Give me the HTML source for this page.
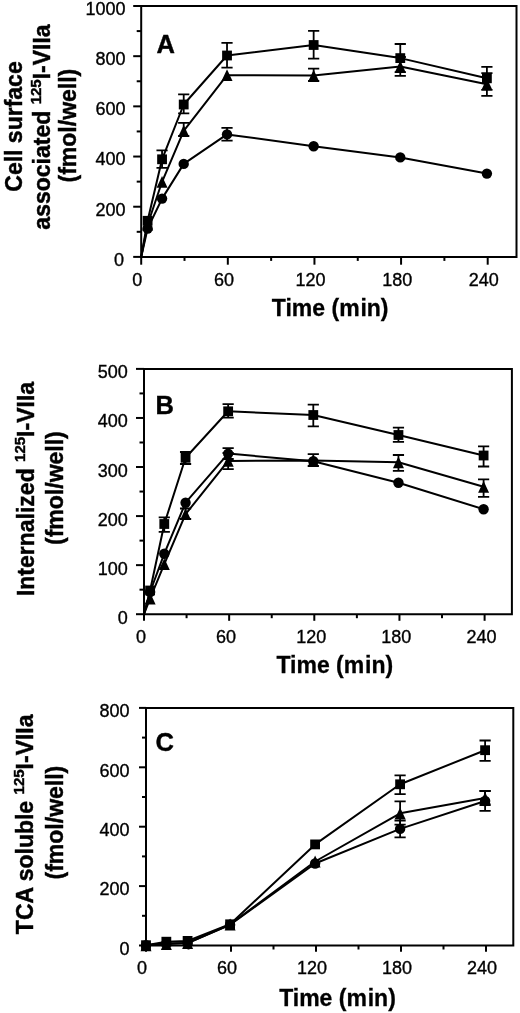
<!DOCTYPE html>
<html><head><meta charset="utf-8"><style>
html,body{margin:0;padding:0;background:#fff;width:520px;height:1013px;overflow:hidden}
svg{display:block}
.tl{font-family:"Liberation Sans",sans-serif;font-size:18px;fill:#000;stroke:#000;stroke-width:0.35px}
.tt{font-family:"Liberation Sans",sans-serif;font-size:23px;font-weight:bold;fill:#000;stroke:#000;stroke-width:0.45px}
.sup{font-size:15px}
.xt{letter-spacing:0px;stroke-width:0.3px}
svg{filter:grayscale(1)}
.lt{font-family:"Liberation Sans",sans-serif;font-size:25.5px;font-weight:bold;fill:#000;stroke:#000;stroke-width:0.4px}
</style></head><body>
<svg width="520" height="1013" viewBox="0 0 520 1013">
<path d="M141.2 6H516.5V256.9H141.2Z" fill="none" stroke="#000" stroke-width="2.0"/>
<path d="M133.2 256.9H141.2" stroke="#000" stroke-width="2.0"/>
<text x="123.9" y="265.7" class="tl" text-anchor="end">0</text>
<path d="M136.7 231.81H141.2" stroke="#000" stroke-width="2.0"/>
<path d="M133.2 206.72H141.2" stroke="#000" stroke-width="2.0"/>
<text x="125.5" y="215.52" class="tl" text-anchor="end">200</text>
<path d="M136.7 181.63H141.2" stroke="#000" stroke-width="2.0"/>
<path d="M133.2 156.54H141.2" stroke="#000" stroke-width="2.0"/>
<text x="125.5" y="165.34" class="tl" text-anchor="end">400</text>
<path d="M136.7 131.45H141.2" stroke="#000" stroke-width="2.0"/>
<path d="M133.2 106.36H141.2" stroke="#000" stroke-width="2.0"/>
<text x="125.5" y="115.16" class="tl" text-anchor="end">600</text>
<path d="M136.7 81.27H141.2" stroke="#000" stroke-width="2.0"/>
<path d="M133.2 56.18H141.2" stroke="#000" stroke-width="2.0"/>
<text x="125.5" y="64.98" class="tl" text-anchor="end">800</text>
<path d="M136.7 31.09H141.2" stroke="#000" stroke-width="2.0"/>
<path d="M133.2 6H141.2" stroke="#000" stroke-width="2.0"/>
<text x="125.5" y="14.8" class="tl" text-anchor="end">1000</text>
<path d="M141.2 256.9V264.7" stroke="#000" stroke-width="2.0"/>
<text x="137.3" y="286.3" class="tl" text-anchor="middle">0</text>
<path d="M184.51 256.9V260.9" stroke="#000" stroke-width="2.0"/>
<path d="M227.82 256.9V264.7" stroke="#000" stroke-width="2.0"/>
<text x="223.92" y="286.3" class="tl" text-anchor="middle">60</text>
<path d="M271.14 256.9V260.9" stroke="#000" stroke-width="2.0"/>
<path d="M314.45 256.9V264.7" stroke="#000" stroke-width="2.0"/>
<text x="310.55" y="286.3" class="tl" text-anchor="middle">120</text>
<path d="M357.76 256.9V260.9" stroke="#000" stroke-width="2.0"/>
<path d="M401.07 256.9V264.7" stroke="#000" stroke-width="2.0"/>
<text x="397.18" y="286.3" class="tl" text-anchor="middle">180</text>
<path d="M444.39 256.9V260.9" stroke="#000" stroke-width="2.0"/>
<path d="M487.7 256.9V264.7" stroke="#000" stroke-width="2.0"/>
<text x="483.8" y="286.3" class="tl" text-anchor="middle">240</text>
<text x="330.2" y="316.2" class="tt xt" text-anchor="middle">Time (m<tspan dx="0.8">in)</tspan></text>
<text x="156.5" y="53" class="lt">A</text>
<text transform="translate(22 126.5) rotate(-90)" class="tt" text-anchor="middle">Cell surface</text>
<text transform="translate(49.5 127) rotate(-90)" class="tt" text-anchor="middle">associated <tspan class="sup" dy="-9">125</tspan><tspan dy="9">I-VIIa</tspan></text>
<text transform="translate(75.7 125.6) rotate(-90)" class="tt" text-anchor="middle">(fmol/well)</text>
<path d="M141.2 256.9 L147.62 220.8 L162.06 159.3 L183.71 104.5 L227.02 55.5 L313.65 45 L400.27 58.1 L486.9 78.3" fill="none" stroke="#000" stroke-width="2.0" stroke-linejoin="round"/>
<path d="M141.2 256.9 L147.62 224.5 L162.06 181.8 L183.71 130.8 L227.02 75.2 L313.65 75.6 L400.27 66.5 L486.9 84.2" fill="none" stroke="#000" stroke-width="2.0" stroke-linejoin="round"/>
<path d="M141.2 256.9 L147.62 228.5 L162.06 198.6 L183.71 163.9 L227.02 134.4 L313.65 146.2 L400.27 157.4 L486.9 173.6" fill="none" stroke="#000" stroke-width="2.0" stroke-linejoin="round"/>
<path d="M162.06 150.4V167.8M156.46 150.4H167.66M156.46 167.8H167.66" stroke="#000" stroke-width="1.8"/>
<path d="M183.71 94.3V113.3M178.11 94.3H189.31M178.11 113.3H189.31" stroke="#000" stroke-width="1.8"/>
<path d="M227.02 42.8V67.6M221.42 42.8H232.62M221.42 67.6H232.62" stroke="#000" stroke-width="1.8"/>
<path d="M313.65 30.8V58.6M308.05 30.8H319.25M308.05 58.6H319.25" stroke="#000" stroke-width="1.8"/>
<path d="M400.27 44V72.2M394.67 44H405.88M394.67 72.2H405.88" stroke="#000" stroke-width="1.8"/>
<path d="M486.9 66.8V89.8M481.3 66.8H492.5M481.3 89.8H492.5" stroke="#000" stroke-width="1.8"/>
<path d="M183.71 122.8V136M178.11 122.8H189.31M178.11 136H189.31" stroke="#000" stroke-width="1.8"/>
<path d="M313.65 68.6V81M308.05 68.6H319.25M308.05 81H319.25" stroke="#000" stroke-width="1.8"/>
<path d="M400.27 57V75.8M394.67 57H405.88M394.67 75.8H405.88" stroke="#000" stroke-width="1.8"/>
<path d="M486.9 73.2V95.8M481.3 73.2H492.5M481.3 95.8H492.5" stroke="#000" stroke-width="1.8"/>
<path d="M227.02 127.9V140.7M221.42 127.9H232.62M221.42 140.7H232.62" stroke="#000" stroke-width="1.8"/>
<rect x="142.72" y="215.9" width="9.8" height="9.8"/>
<rect x="157.16" y="154.4" width="9.8" height="9.8"/>
<rect x="178.81" y="99.6" width="9.8" height="9.8"/>
<rect x="222.12" y="50.6" width="9.8" height="9.8"/>
<rect x="308.75" y="40.1" width="9.8" height="9.8"/>
<rect x="395.38" y="53.2" width="9.8" height="9.8"/>
<rect x="482" y="73.4" width="9.8" height="9.8"/>
<path d="M147.62 218.6L153.12 230.4H142.12Z"/>
<path d="M162.06 175.9L167.56 187.7H156.56Z"/>
<path d="M183.71 124.9L189.21 136.7H178.21Z"/>
<path d="M227.02 69.3L232.52 81.1H221.52Z"/>
<path d="M313.65 69.7L319.15 81.5H308.15Z"/>
<path d="M400.27 60.6L405.77 72.4H394.77Z"/>
<path d="M486.9 78.3L492.4 90.1H481.4Z"/>
<circle cx="147.62" cy="228.5" r="5.2"/>
<circle cx="162.06" cy="198.6" r="5.2"/>
<circle cx="183.71" cy="163.9" r="5.2"/>
<circle cx="227.02" cy="134.4" r="5.2"/>
<circle cx="313.65" cy="146.2" r="5.2"/>
<circle cx="400.27" cy="157.4" r="5.2"/>
<circle cx="486.9" cy="173.6" r="5.2"/>
<path d="M144 368.9H511.9V614.2H144Z" fill="none" stroke="#000" stroke-width="2.0"/>
<path d="M136 614.2H144" stroke="#000" stroke-width="2.0"/>
<text x="127.8" y="623.7" class="tl" text-anchor="end">0</text>
<path d="M139.5 589.67H144" stroke="#000" stroke-width="2.0"/>
<path d="M136 565.14H144" stroke="#000" stroke-width="2.0"/>
<text x="127.8" y="574.64" class="tl" text-anchor="end">100</text>
<path d="M139.5 540.61H144" stroke="#000" stroke-width="2.0"/>
<path d="M136 516.08H144" stroke="#000" stroke-width="2.0"/>
<text x="127.8" y="525.58" class="tl" text-anchor="end">200</text>
<path d="M139.5 491.55H144" stroke="#000" stroke-width="2.0"/>
<path d="M136 467.02H144" stroke="#000" stroke-width="2.0"/>
<text x="127.8" y="476.52" class="tl" text-anchor="end">300</text>
<path d="M139.5 442.49H144" stroke="#000" stroke-width="2.0"/>
<path d="M136 417.96H144" stroke="#000" stroke-width="2.0"/>
<text x="127.8" y="427.46" class="tl" text-anchor="end">400</text>
<path d="M139.5 393.43H144" stroke="#000" stroke-width="2.0"/>
<path d="M136 368.9H144" stroke="#000" stroke-width="2.0"/>
<text x="127.8" y="378.4" class="tl" text-anchor="end">500</text>
<path d="M144 614.2V620.8" stroke="#000" stroke-width="2.0"/>
<text x="140.9" y="643.3" class="tl" text-anchor="middle">0</text>
<path d="M186.57 614.2V618.2" stroke="#000" stroke-width="2.0"/>
<path d="M229.15 614.2V620.8" stroke="#000" stroke-width="2.0"/>
<text x="226.05" y="643.3" class="tl" text-anchor="middle">60</text>
<path d="M271.73 614.2V618.2" stroke="#000" stroke-width="2.0"/>
<path d="M314.3 614.2V620.8" stroke="#000" stroke-width="2.0"/>
<text x="311.2" y="643.3" class="tl" text-anchor="middle">120</text>
<path d="M356.88 614.2V618.2" stroke="#000" stroke-width="2.0"/>
<path d="M399.45 614.2V620.8" stroke="#000" stroke-width="2.0"/>
<text x="396.35" y="643.3" class="tl" text-anchor="middle">180</text>
<path d="M442.02 614.2V618.2" stroke="#000" stroke-width="2.0"/>
<path d="M484.6 614.2V620.8" stroke="#000" stroke-width="2.0"/>
<text x="481.5" y="643.3" class="tl" text-anchor="middle">240</text>
<text x="334.8" y="672.6" class="tt xt" text-anchor="middle">Time (m<tspan dx="0.8">in)</tspan></text>
<text x="155.5" y="414" class="lt">B</text>
<text transform="translate(34.3 489) rotate(-90)" class="tt" text-anchor="middle">Internalized <tspan class="sup" dy="-9">125</tspan><tspan dy="9">I-VIIa</tspan></text>
<text transform="translate(63 488.1) rotate(-90)" class="tt" text-anchor="middle">(fmol/well)</text>
<path d="M144 614.2 L150.1 590.5 L164.29 524 L185.57 457.8 L228.15 411.3 L313.3 415 L398.45 435 L483.6 455.5" fill="none" stroke="#000" stroke-width="2.0" stroke-linejoin="round"/>
<path d="M144 614.2 L150.1 598.5 L164.29 564.2 L185.57 514.2 L228.15 460.9 L313.3 460.5 L398.45 462.3 L483.6 486.8" fill="none" stroke="#000" stroke-width="2.0" stroke-linejoin="round"/>
<path d="M144 614.2 L150.1 592 L164.29 553.7 L185.57 502.7 L228.15 453.6 L313.3 461.2 L398.45 482.7 L483.6 509.2" fill="none" stroke="#000" stroke-width="2.0" stroke-linejoin="round"/>
<path d="M164.29 517.4V531.9M158.69 517.4H169.89M158.69 531.9H169.89" stroke="#000" stroke-width="1.8"/>
<path d="M185.57 452V464M179.97 452H191.17M179.97 464H191.17" stroke="#000" stroke-width="1.8"/>
<path d="M228.15 404.2V417.6M222.55 404.2H233.75M222.55 417.6H233.75" stroke="#000" stroke-width="1.8"/>
<path d="M313.3 404.6V426.4M307.7 404.6H318.9M307.7 426.4H318.9" stroke="#000" stroke-width="1.8"/>
<path d="M398.45 427.7V441.9M392.85 427.7H404.05M392.85 441.9H404.05" stroke="#000" stroke-width="1.8"/>
<path d="M483.6 446.3V466.5M478 446.3H489.2M478 466.5H489.2" stroke="#000" stroke-width="1.8"/>
<path d="M185.57 508.5V519M179.97 508.5H191.17M179.97 519H191.17" stroke="#000" stroke-width="1.8"/>
<path d="M228.15 453V469.2M222.55 453H233.75M222.55 469.2H233.75" stroke="#000" stroke-width="1.8"/>
<path d="M313.3 454.1V466M307.7 454.1H318.9M307.7 466H318.9" stroke="#000" stroke-width="1.8"/>
<path d="M398.45 455V470.9M392.85 455H404.05M392.85 470.9H404.05" stroke="#000" stroke-width="1.8"/>
<path d="M483.6 479.4V496.9M478 479.4H489.2M478 496.9H489.2" stroke="#000" stroke-width="1.8"/>
<path d="M228.15 448.2V459M222.55 448.2H233.75M222.55 459H233.75" stroke="#000" stroke-width="1.8"/>
<rect x="145.2" y="585.6" width="9.8" height="9.8"/>
<rect x="159.39" y="519.1" width="9.8" height="9.8"/>
<rect x="180.67" y="452.9" width="9.8" height="9.8"/>
<rect x="223.25" y="406.4" width="9.8" height="9.8"/>
<rect x="308.4" y="410.1" width="9.8" height="9.8"/>
<rect x="393.55" y="430.1" width="9.8" height="9.8"/>
<rect x="478.7" y="450.6" width="9.8" height="9.8"/>
<path d="M150.1 592.6L155.6 604.4H144.6Z"/>
<path d="M164.29 558.3L169.79 570.1H158.79Z"/>
<path d="M185.57 508.3L191.07 520.1H180.07Z"/>
<path d="M228.15 455L233.65 466.8H222.65Z"/>
<path d="M313.3 454.6L318.8 466.4H307.8Z"/>
<path d="M398.45 456.4L403.95 468.2H392.95Z"/>
<path d="M483.6 480.9L489.1 492.7H478.1Z"/>
<circle cx="150.1" cy="592" r="5.2"/>
<circle cx="164.29" cy="553.7" r="5.2"/>
<circle cx="185.57" cy="502.7" r="5.2"/>
<circle cx="228.15" cy="453.6" r="5.2"/>
<circle cx="313.3" cy="461.2" r="5.2"/>
<circle cx="398.45" cy="482.7" r="5.2"/>
<circle cx="483.6" cy="509.2" r="5.2"/>
<path d="M146 707.9H513.3V945.5H146Z" fill="none" stroke="#000" stroke-width="2.0"/>
<path d="M139 945.5H146" stroke="#000" stroke-width="2.0"/>
<text x="129.5" y="954.8" class="tl" text-anchor="end">0</text>
<path d="M142 915.8H146" stroke="#000" stroke-width="2.0"/>
<path d="M139 886.1H146" stroke="#000" stroke-width="2.0"/>
<text x="129.5" y="895.4" class="tl" text-anchor="end">200</text>
<path d="M142 856.4H146" stroke="#000" stroke-width="2.0"/>
<path d="M139 826.7H146" stroke="#000" stroke-width="2.0"/>
<text x="129.5" y="836" class="tl" text-anchor="end">400</text>
<path d="M142 797H146" stroke="#000" stroke-width="2.0"/>
<path d="M139 767.3H146" stroke="#000" stroke-width="2.0"/>
<text x="129.5" y="776.6" class="tl" text-anchor="end">600</text>
<path d="M142 737.6H146" stroke="#000" stroke-width="2.0"/>
<path d="M139 707.9H146" stroke="#000" stroke-width="2.0"/>
<text x="129.5" y="717.2" class="tl" text-anchor="end">800</text>
<path d="M146 945.5V951.7" stroke="#000" stroke-width="2.0"/>
<text x="142.1" y="973.7" class="tl" text-anchor="middle">0</text>
<path d="M188.5 945.5V949.5" stroke="#000" stroke-width="2.0"/>
<path d="M231 945.5V951.7" stroke="#000" stroke-width="2.0"/>
<text x="227.1" y="973.7" class="tl" text-anchor="middle">60</text>
<path d="M273.5 945.5V949.5" stroke="#000" stroke-width="2.0"/>
<path d="M316 945.5V951.7" stroke="#000" stroke-width="2.0"/>
<text x="312.1" y="973.7" class="tl" text-anchor="middle">120</text>
<path d="M358.5 945.5V949.5" stroke="#000" stroke-width="2.0"/>
<path d="M401 945.5V951.7" stroke="#000" stroke-width="2.0"/>
<text x="397.1" y="973.7" class="tl" text-anchor="middle">180</text>
<path d="M443.5 945.5V949.5" stroke="#000" stroke-width="2.0"/>
<path d="M486 945.5V951.7" stroke="#000" stroke-width="2.0"/>
<text x="482.1" y="973.7" class="tl" text-anchor="middle">240</text>
<text x="337.5" y="1006.4" class="tt xt" text-anchor="middle">Time (m<tspan dx="0.8">in)</tspan></text>
<text x="155.5" y="751.3" class="lt">C</text>
<text transform="translate(33.2 824.3) rotate(-90)" class="tt" text-anchor="middle">TCA soluble <tspan class="sup" dy="-9">125</tspan><tspan dy="9">I-VIIa</tspan></text>
<text transform="translate(62.5 822.6) rotate(-90)" class="tt" text-anchor="middle">(fmol/well)</text>
<path d="M146 945.2 L166.35 941.7 L187.6 940.9 L230.1 924.3 L315.1 844.4 L400.1 784.3 L485.1 750.2" fill="none" stroke="#000" stroke-width="2.0" stroke-linejoin="round"/>
<path d="M146 945.3 L166.35 944 L187.6 943 L230.1 924.5 L315.1 861.5 L400.1 813.3 L485.1 798" fill="none" stroke="#000" stroke-width="2.0" stroke-linejoin="round"/>
<path d="M146 945.3 L166.35 943.5 L187.6 943 L230.1 924.8 L315.1 863.5 L400.1 828.9 L485.1 801" fill="none" stroke="#000" stroke-width="2.0" stroke-linejoin="round"/>
<path d="M400.1 775.3V794.1M394.5 775.3H405.7M394.5 794.1H405.7" stroke="#000" stroke-width="1.8"/>
<path d="M485.1 740.5V760.9M479.5 740.5H490.7M479.5 760.9H490.7" stroke="#000" stroke-width="1.8"/>
<path d="M400.1 801.4V824.6M394.5 801.4H405.7M394.5 824.6H405.7" stroke="#000" stroke-width="1.8"/>
<path d="M485.1 790.8V805M479.5 790.8H490.7M479.5 805H490.7" stroke="#000" stroke-width="1.8"/>
<path d="M400.1 820.5V837.3M394.5 820.5H405.7M394.5 837.3H405.7" stroke="#000" stroke-width="1.8"/>
<path d="M485.1 791V810.9M479.5 791H490.7M479.5 810.9H490.7" stroke="#000" stroke-width="1.8"/>
<rect x="141.1" y="940.3" width="9.8" height="9.8"/>
<rect x="161.45" y="936.8" width="9.8" height="9.8"/>
<rect x="182.7" y="936" width="9.8" height="9.8"/>
<rect x="225.2" y="919.4" width="9.8" height="9.8"/>
<rect x="310.2" y="839.5" width="9.8" height="9.8"/>
<rect x="395.2" y="779.4" width="9.8" height="9.8"/>
<rect x="480.2" y="745.3" width="9.8" height="9.8"/>
<path d="M146 939.4L151.5 951.2H140.5Z"/>
<path d="M166.35 938.1L171.85 949.9H160.85Z"/>
<path d="M187.6 937.1L193.1 948.9H182.1Z"/>
<path d="M230.1 918.6L235.6 930.4H224.6Z"/>
<path d="M315.1 855.6L320.6 867.4H309.6Z"/>
<path d="M400.1 807.4L405.6 819.2H394.6Z"/>
<path d="M485.1 792.1L490.6 803.9H479.6Z"/>
<circle cx="146" cy="945.3" r="5.2"/>
<circle cx="166.35" cy="943.5" r="5.2"/>
<circle cx="187.6" cy="943" r="5.2"/>
<circle cx="230.1" cy="924.8" r="5.2"/>
<circle cx="315.1" cy="863.5" r="5.2"/>
<circle cx="400.1" cy="828.9" r="5.2"/>
<circle cx="485.1" cy="801" r="5.2"/>
</svg>
</body></html>
